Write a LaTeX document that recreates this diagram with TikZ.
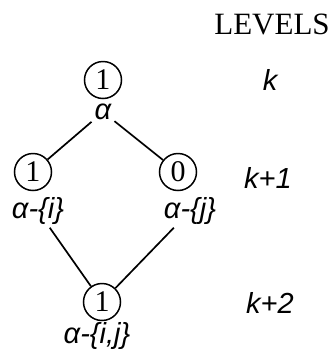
\documentclass[tikz,border=0pt]{standalone}
\usepackage{fontspec}
\setmainfont{Liberation Serif}
\newfontfamily\lblfont{Liberation Sans}
\usetikzlibrary{positioning}

\begin{document}
\begin{tikzpicture}[x=1pt, y=-1pt,
  state/.style={draw, circle, line width=1.5pt, minimum size=37pt, inner sep=0pt,
                font=\fontsize{30}{32}\selectfont},
  setlbl/.style={font=\fontsize{29}{31}\selectfont\lblfont\itshape, inner sep=3pt},
  lvl/.style={font=\fontsize{29}{31}\selectfont\lblfont\itshape},
  link/.style={line width=1.7pt},
]
\useasboundingbox (0,0) rectangle (330,349);

% Zustaende mit Mengenbeschriftung
\node[state]  (top)   at (103,80)  {1};
\node[setlbl] (a)     at (103,112) {α};
\node[state]  (left)  at (33,172)  {1};
\node[setlbl] (ai)    at (38,211)  {α-\{i\}};
\node[state]  (right) at (178,172) {0};
\node[setlbl] (aj)    at (190,211) {α-\{j\}};
\node[state]  (bot)   at (102,302) {1};
\node[setlbl] (aij)   at (97,336)  {α-\{i,j\}};

% Kanten
\draw[link] (a) -- (left);
\draw[link] (a) -- (right);
\draw[link] (ai) -- (bot);
\draw[link] (aj) -- (bot);

% Ebenen
\node[font=\fontsize{31}{33}\selectfont] (levels) at (272,24) {LEVELS};
\node[lvl] (k)   at (270,80)  {k};
\node[lvl] (k1)  at (268,178) {k+1};
\node[lvl] (k2)  at (270,303) {k+2};

\end{tikzpicture}
\end{document}
